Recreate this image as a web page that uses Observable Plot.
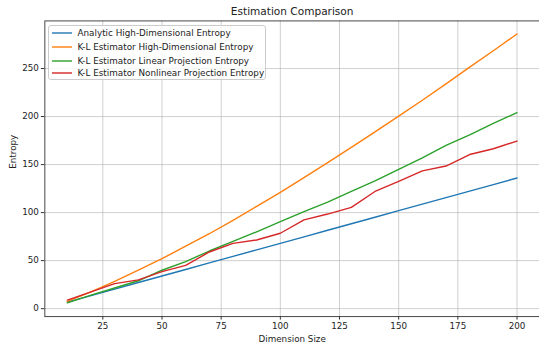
<!DOCTYPE html>
<html>
<head>
<meta charset="utf-8">
<script src="https://cdn.jsdelivr.net/npm/d3@7"></script>
<script src="https://cdn.jsdelivr.net/npm/@observablehq/plot@0.6"></script>
<style>
  html, body { margin: 0; padding: 0; background: #fff; overflow: hidden; }
  #wrap { position: relative; width: 539px; height: 347px; overflow: hidden; font-family: "DejaVu Sans", sans-serif; }
  #legend { position: absolute; left: 48px; top: 24.5px; width: 218px; height: 55.5px; box-sizing: border-box;
            border: 1px solid #cccccc; border-radius: 3px; background: rgba(255,255,255,0.8); }
  .row { position: absolute; left: 0; height: 12px; font-size: 8.8px; color: #222; white-space: nowrap; }
  .row svg { position: absolute; left: 2.5px; top: 0; }
  .row span { position: absolute; left: 28.5px; top: 0; line-height: 12px; }
</style>
</head>
<body>
<div id="wrap"></div>
<script>
const dims = [10, 20, 30, 40, 50, 60, 70, 80, 90, 100, 110, 120, 130, 140, 150, 160, 170, 180, 190, 200];
const analytic = [6.8, 13.6, 20.4, 27.2, 34.0, 40.8, 47.6, 54.4, 61.2, 68.0, 74.8, 81.6, 88.4, 95.2, 102.0, 108.8, 115.6, 122.4, 129.2, 136.0];
const klHigh = [7.5, 17.5, 28.5, 40.0, 52.0, 65.0, 78.0, 92.0, 106.5, 121.0, 136.5, 152.0, 168.0, 184.0, 200.5, 217.0, 234.0, 251.5, 268.5, 286.0];
const klLinear = [6.0, 14.0, 21.5, 29.0, 40.0, 49.0, 60.0, 70.0, 80.0, 90.5, 101.0, 111.0, 122.0, 133.0, 145.0, 157.0, 170.0, 181.0, 193.0, 204.0];
const klNonlinear = [8.9, 17.5, 26.0, 30.0, 38.5, 45.0, 59.0, 68.0, 71.5, 78.5, 92.5, 98.5, 105.5, 122.0, 132.5, 143.5, 148.5, 160.5, 166.5, 174.5];
const seriesNames = [
  "Analytic High-Dimensional Entropy",
  "K-L Estimator High-Dimensional Entropy",
  "K-L Estimator Linear Projection Entropy",
  "K-L Estimator Nonlinear Projection Entropy"
];
const seriesColors = ["#1f77b4", "#ff7f0e", "#2ca02c", "#d62728"];
const xTicks = [25, 50, 75, 100, 125, 150, 175, 200];
const yTicks = [0, 50, 100, 150, 200, 250];
const titleText = "Estimation Comparison";
const xLabel = "Dimension Size";
const yLabel = "Entropy";

const allSeries = [analytic, klHigh, klLinear, klNonlinear];
const data = [];
allSeries.forEach((vals, si) => {
  vals.forEach((v, i) => data.push({dim: dims[i], value: v, series: seriesNames[si]}));
});

const chart = Plot.plot({
  width: 541,
  height: 347,
  marginLeft: 44.5,
  marginRight: 0,
  marginTop: 20.5,
  marginBottom: 29.7,
  style: {fontFamily: "DejaVu Sans, sans-serif", fontSize: "8.8px", color: "#222", background: "#fff", overflow: "visible"},
  x: {domain: [0.5, 209.5]},
  y: {domain: [-8.3, 299.6]},
  color: {domain: seriesNames, range: seriesColors},
  marks: [
    Plot.gridX(xTicks, {stroke: "#b0b0b0", strokeOpacity: 0.75, strokeWidth: 0.8}),
    Plot.gridY(yTicks, {stroke: "#b0b0b0", strokeOpacity: 0.75, strokeWidth: 0.8}),
    Plot.line(data, {x: "dim", y: "value", z: "series", stroke: "series", strokeWidth: 1.4}),
    Plot.frame({stroke: "#333", strokeWidth: 0.9}),
    Plot.axisX({ticks: xTicks, tickSize: 3.5, tickPadding: 2.5, label: null, fontSize: 8.8, stroke: "#333"}),
    Plot.axisY({ticks: yTicks, tickSize: 3.5, tickPadding: 2.5, label: null, fontSize: 8.8, stroke: "#333"}),
    Plot.text([titleText], {frameAnchor: "top", dy: -9, fontSize: 10.6, lineAnchor: "middle", fill: "#222"}),
    Plot.text([xLabel], {frameAnchor: "bottom", dy: 23, fontSize: 8.8, lineAnchor: "middle", fill: "#222"}),
    Plot.text([yLabel], {frameAnchor: "left", dx: -32, rotate: -90, fontSize: 8.8, lineAnchor: "middle", fill: "#222"})
  ]
});

const wrap = document.getElementById("wrap");
wrap.appendChild(chart);

const legend = document.createElement("div");
legend.id = "legend";
const rowTops = [1.8, 15.2, 29.2, 41.8];
seriesNames.forEach((name, i) => {
  const row = document.createElement("div");
  row.className = "row";
  row.style.top = rowTops[i] + "px";
  row.innerHTML = `<svg width="22" height="12"><line x1="0" x2="20" y1="6" y2="6" stroke="${seriesColors[i]}" stroke-width="1.4"/></svg><span>${name}</span>`;
  legend.appendChild(row);
});
wrap.appendChild(legend);
</script>
</body>
</html>
